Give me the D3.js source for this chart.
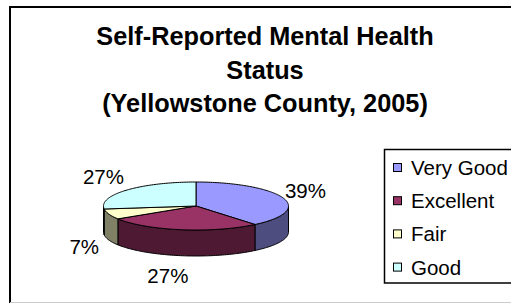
<!DOCTYPE html>
<html>
<head>
<meta charset="utf-8">
<script src="https://d3js.org/d3.v7.min.js"></script>
<style>
    body { margin: 0; background: #fff; }
    svg { display: block; font-family: "Liberation Sans", Arial, sans-serif; }
</style>
</head>
<body>
<script>
    // chart data
    var categories = ["Very Good", "Excellent", "Fair", "Good"];
    var percents = [39, 27, 7, 27];
    var topColors = ["#9999FF", "#993366", "#FFFFCC", "#CCFFFF"];
    var sideColors = ["#4D4D80", "#4D1933", "#808066", "#668080"];
    var titleLines = ["Self-Reported Mental Health", "Status", "(Yellowstone County, 2005)"];

    var W = 511, H = 303;
    var cx = 196, cy = 206, rx = 92.5, ry = 24, depth = 26;

    var svg = d3.select("body").append("svg")
        .attr("width", W)
        .attr("height", H);

    // outer chart frame
    svg.append("path")
        .attr("d", "M10,303 L10,7 L515,7")
        .attr("fill", "none")
        .attr("stroke", "#000")
        .attr("stroke-width", 2);
    svg.append("line")
        .attr("x1", 10).attr("x2", 511)
        .attr("y1", 302.5).attr("y2", 302.5)
        .attr("stroke", "#ccc");

    // title
    svg.append("text")
        .attr("x", 265)
        .attr("text-anchor", "middle")
        .attr("font-weight", "bold")
        .attr("font-size", 25.3)
        .selectAll("tspan")
        .data(titleLines)
        .enter().append("tspan")
        .attr("x", 265)
        .attr("y", function(d, i) { return 45 + i * 33.5; })
        .text(function(d) { return d; });

    // pie layout (clockwise from 12 o'clock)
    var pie = d3.pie().sort(null).value(function(d) { return d; });
    var arcs = pie(percents);

    function px(a) { return cx + rx * Math.sin(a); }
    function py(a) { return cy - ry * Math.cos(a); }

    function arcPoints(a0, a1, dy) {
        var n = Math.max(2, Math.ceil(Math.abs(a1 - a0) / 0.02));
        var pts = [];
        for (var i = 0; i <= n; i++) {
            var a = a0 + (a1 - a0) * i / n;
            pts.push([px(a), py(a) + dy]);
        }
        return pts;
    }

    var line = d3.line();

    // side walls, only the front half is visible
    var g = svg.append("g");
    arcs.forEach(function(d, i) {
        var a0 = Math.max(d.startAngle, Math.PI / 2);
        var a1 = Math.min(d.endAngle, Math.PI * 3 / 2);
        if (a1 <= a0) return;
        var pts = arcPoints(a0, a1, 0).concat(arcPoints(a1, a0, depth));
        g.append("path")
            .attr("d", line(pts) + "Z")
            .attr("fill", sideColors[i])
            .attr("stroke", "#000")
            .attr("stroke-width", 1);
    });

    // top faces
    arcs.forEach(function(d, i) {
        var pts = [[cx, cy]].concat(arcPoints(d.startAngle, d.endAngle, 0));
        g.append("path")
            .attr("d", line(pts) + "Z")
            .attr("fill", topColors[i])
            .attr("stroke", "#000")
            .attr("stroke-width", 1);
    });

    // percentage labels outside the slices
    arcs.forEach(function(d, i) {
        var a = (d.startAngle + d.endAngle) / 2;
        var c = Math.cos(a);
        var x = cx + (rx + 25) * Math.sin(a) - 10 * c * c;
        var y = cy - (ry + 20) * c + (c < 0 ? depth : 0);
        svg.append("text")
            .attr("x", x)
            .attr("y", y)
            .attr("dy", "0.35em")
            .attr("text-anchor", "middle")
            .attr("font-size", 20.5)
            .attr("fill", "#000")
            .text(d.data + "%");
    });

    // legend
    var legend = svg.append("g");
    legend.append("rect")
        .attr("x", 384.5).attr("y", 149.5)
        .attr("width", 140).attr("height", 133.5)
        .attr("fill", "#fff")
        .attr("stroke", "#000")
        .attr("stroke-width", 1.5);

    var items = legend.selectAll("g.item")
        .data(categories)
        .enter().append("g")
        .attr("class", "item")
        .attr("transform", function(d, i) { return "translate(0," + (i * 33.2) + ")"; });

    items.append("rect")
        .attr("x", 393.5).attr("y", 163.5)
        .attr("width", 8).attr("height", 8)
        .attr("fill", function(d, i) { return topColors[i]; })
        .attr("stroke", "#000")
        .attr("stroke-width", 1);

    items.append("text")
        .attr("x", 411)
        .attr("y", 175)
        .attr("font-size", 20.5)
        .text(function(d) { return d; });
</script>
</body>
</html>
